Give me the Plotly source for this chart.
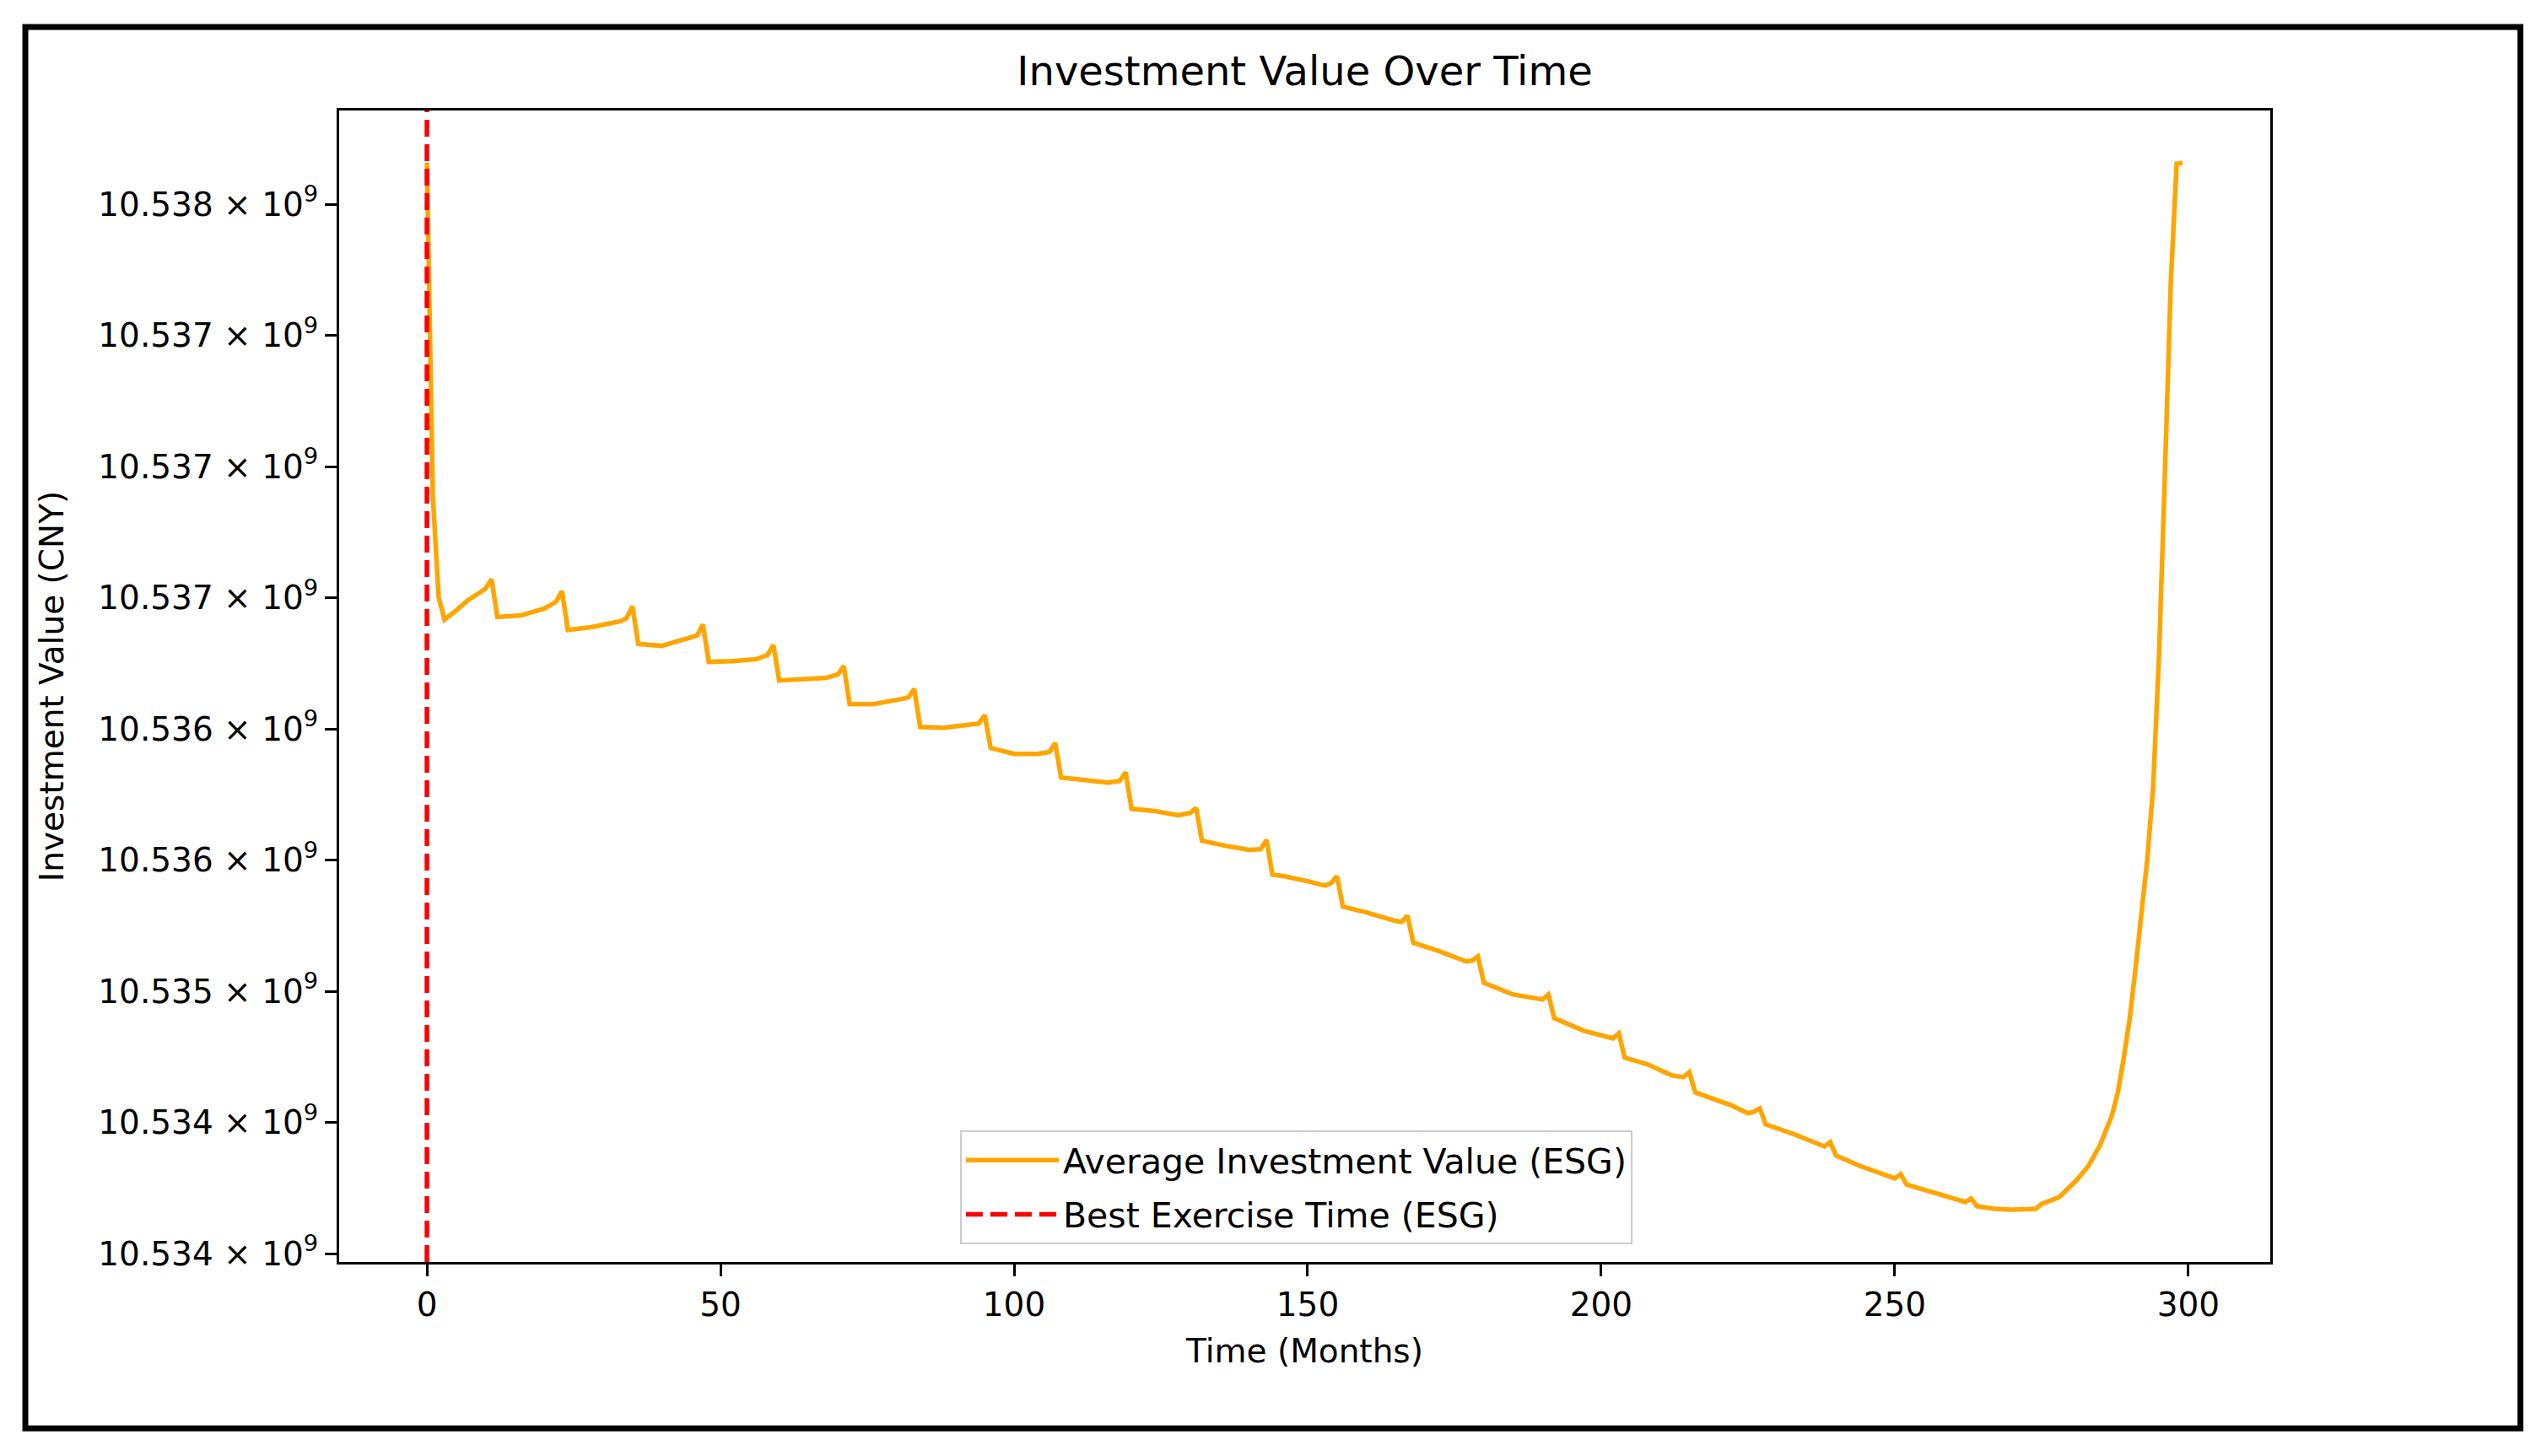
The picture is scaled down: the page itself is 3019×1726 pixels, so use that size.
import plotly.graph_objects as go

# ---- data ----
months = [0, 1, 2, 3, 5, 7, 9, 10, 11, 12, 16, 20, 22, 23, 24, 28, 33, 34, 35,
          36, 40, 45, 46, 47, 48, 52, 56, 58, 59, 60, 64, 68, 70, 71,
          72, 76, 81, 82, 83, 84, 88, 93, 94, 95, 96, 100, 104, 106, 107,
          108, 112, 116, 118, 119, 120, 124, 128, 130, 131, 132, 136, 140, 142, 143,
          144, 146, 150, 153, 154, 155, 156, 160, 165, 166, 167, 168, 172, 177, 178, 179,
          180, 185, 190, 191, 192, 197, 202, 203, 204, 208, 212, 214, 215,
          216, 222, 225, 226, 227, 228, 233, 238, 239, 240, 244, 250, 251,
          252, 258, 262, 263, 264, 267, 270, 274, 275, 278, 281, 283, 285,
          287, 288, 289, 290, 291, 292, 293, 294, 295, 296, 297, 298, 299]

avg_value = [10538158000, 10536890000, 10536501000, 10536417000, 10536452000,
             10536491000, 10536520000, 10536536000, 10536571000, 10536427000,
             10536433000, 10536459000, 10536485000, 10536526000, 10536378000,
             10536388000, 10536411000, 10536423000, 10536468000,
             10536324000, 10536317000, 10536346000, 10536356000, 10536398000,
             10536256000, 10536259000, 10536266000, 10536282000, 10536320000,
             10536185000, 10536189000, 10536195000, 10536208000, 10536240000,
             10536095000, 10536095000, 10536115000, 10536121000, 10536153000,
             10536008000, 10536005000, 10536015000, 10536021000, 10536053000,
             10535928000, 10535905000, 10535905000, 10535912000, 10535947000,
             10535815000, 10535806000, 10535796000, 10535802000, 10535835000,
             10535696000, 10535687000, 10535671000, 10535680000, 10535699000,
             10535574000, 10535555000, 10535539000, 10535542000, 10535577000,
             10535445000, 10535439000, 10535420000, 10535403000, 10535413000, 10535439000,
             10535323000, 10535301000, 10535268000, 10535265000, 10535288000,
             10535185000, 10535156000, 10535114000, 10535117000, 10535133000,
             10535033000, 10534988000, 10534969000, 10534988000,
             10534898000, 10534850000, 10534821000, 10534840000,
             10534747000, 10534721000, 10534680000, 10534673000, 10534692000,
             10534615000, 10534567000, 10534535000, 10534541000, 10534554000,
             10534493000, 10534454000, 10534409000, 10534425000,
             10534374000, 10534335000, 10534287000, 10534303000,
             10534264000, 10534223000, 10534197000, 10534210000, 10534181000,
             10534171000, 10534168000, 10534171000, 10534190000, 10534216000,
             10534281000, 10534335000, 10534416000,
             10534528000, 10534615000, 10534747000, 10534895000, 10535088000,
             10535281000, 10535503000, 10535780000, 10536279000, 10536970000,
             10537698000, 10538154000, 10538158000]

best_exercise_time = 0

x_ticks = [0, 50, 100, 150, 200, 250, 300]
y_tick_values = [10538000000, 10537500000, 10537000000, 10536500000, 10536000000,
                 10535500000, 10535000000, 10534500000, 10534000000]
y_tick_labels = ["10.538", "10.537", "10.537", "10.537", "10.536",
                 "10.536", "10.535", "10.534", "10.534"]

# ---- figure ----
# page body has an 8px default margin, so the figure is 16px smaller than the window
W, H = 3003, 1710
FONT = "DejaVu Sans"
FS = 39

fig = go.Figure()
fig.add_trace(go.Scatter(
    x=months, y=avg_value, mode="lines",
    name="Average Investment Value (ESG)", legendgroup="a",
    line=dict(color="#FFA500", width=5.5),
))
fig.add_trace(go.Scatter(
    x=[None], y=[None], mode="lines",
    name="Best Exercise Time (ESG)", legendgroup="b",
    line=dict(color="#FF0000", width=5.5, dash="20px,9px"),
))

# vertical best-exercise line spanning the axes
fig.add_shape(type="line", xref="x", yref="paper",
              x0=best_exercise_time, x1=best_exercise_time, y0=0, y1=1,
              line=dict(color="#FF0000", width=5.5, dash="20px,9px"), layer="above")

# outer black frame around the figure
fig.add_shape(type="rect", xref="paper", yref="paper",
              x0=-0.1625, x1=1.1295, y0=-0.1445, y1=1.0725,
              line=dict(color="black", width=7), fillcolor="rgba(0,0,0,0)", layer="above")

ymin = min(avg_value)
ymax = max(avg_value)
pad = (ymax - ymin) * 0.05
xpad = (max(months) - min(months)) * 0.05

fig.update_layout(
    width=W, height=H,
    margin=dict(l=394, r=320, t=123, b=222, autoexpand=False),
    paper_bgcolor="white", plot_bgcolor="white",
    font=dict(family=FONT, size=FS, color="black"),
    title=dict(text="Investment Value Over Time", xref="paper", x=0.5, xanchor="center",
               y=1 - 76 / H, yanchor="middle", font=dict(size=48, family=FONT, color="black")),
    showlegend=True,
    legend=dict(x=0.3215, y=0.0154, xanchor="left", yanchor="bottom",
                bgcolor="rgba(255,255,255,0.8)", bordercolor="#cccccc", borderwidth=2,
                font=dict(size=41, family=FONT, color="black"), itemwidth=110,
                tracegroupgap=8),
)

fig.update_xaxes(
    range=[min(months) - xpad, max(months) + xpad],
    tickmode="array", tickvals=x_ticks, ticktext=[str(t) for t in x_ticks],
    showline=True, mirror=True, linecolor="black", linewidth=3,
    ticks="outside", ticklen=14, tickwidth=3, tickcolor="black",
    showgrid=False, zeroline=False,
    tickfont=dict(size=FS, family=FONT, color="black"),
    title=dict(text="Time (Months)", font=dict(size=FS, family=FONT, color="black"), standoff=20),
)
fig.update_yaxes(
    range=[ymin - pad, ymax + pad],
    tickmode="array", tickvals=y_tick_values,
    ticktext=[f"{t} × 10<sup>9</sup>" for t in y_tick_labels],
    showline=True, mirror=True, linecolor="black", linewidth=3,
    ticks="outside", ticklen=14, tickwidth=3, tickcolor="black",
    showgrid=False, zeroline=False,
    tickfont=dict(size=FS, family=FONT, color="black"),
    title=dict(text="Investment Value (CNY)", font=dict(size=FS, family=FONT, color="black"), standoff=29),
)

fig.write_html("out.html")
